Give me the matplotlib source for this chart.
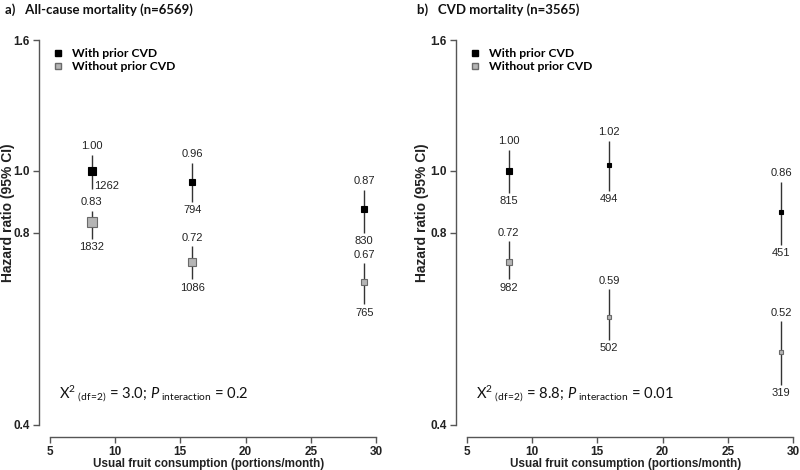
import matplotlib
matplotlib.use("Agg")
import matplotlib.pyplot as plt
from matplotlib.lines import Line2D
from matplotlib.ticker import FixedLocator, FixedFormatter, NullLocator

# ---------------- data ----------------
fruit_x = [8.2, 15.9, 29.1]

a_with_hr = [1.00, 0.96, 0.87]
a_with_lo = [0.937, 0.894, 0.800]
a_with_hi = [1.059, 1.029, 0.934]
a_with_n = [1262, 794, 830]

a_without_hr = [0.83, 0.72, 0.67]
a_without_lo = [0.783, 0.676, 0.618]
a_without_hi = [0.866, 0.761, 0.716]
a_without_n = [1832, 1086, 765]

b_with_hr = [1.00, 1.02, 0.86]
b_with_lo = [0.924, 0.930, 0.766]
b_with_hi = [1.078, 1.114, 0.960]
b_with_n = [815, 494, 451]

b_without_hr = [0.72, 0.59, 0.52]
b_without_lo = [0.676, 0.544, 0.462]
b_without_hi = [0.775, 0.652, 0.581]
b_without_n = [982, 502, 319]

x_ticks = [5, 10, 15, 20, 25, 30]
y_ticks = [0.4, 0.8, 1.0, 1.6]
y_ticklabels = ["0.4", "0.8", "1.0", "1.6"]

titles = ["a)   All-cause mortality (n=6569)", "b)   CVD mortality (n=3565)"]
stats = [r"X$^{2}$$_{\ (df\!=\!2)}$ = 3.0; $\mathit{P}$$_{\ interaction}$ = 0.2",
         r"X$^{2}$$_{\ (df\!=\!2)}$ = 8.8; $\mathit{P}$$_{\ interaction}$ = 0.01"]

# ---------------- style ----------------
plt.rcParams["font.family"] = ["Liberation Sans", "DejaVu Sans"]
plt.rcParams["mathtext.fontset"] = "custom"
plt.rcParams["mathtext.rm"] = "Lato"
plt.rcParams["mathtext.it"] = "Lato:italic"
plt.rcParams["mathtext.default"] = "regular"

W, H = 800, 470
fig = plt.figure(figsize=(8, 4.7), dpi=100)

AX_COL = "#555555"
LINE_COL = "#333333"
GRAY_FACE = "#b5b5b5"
GRAY_EDGE = "#6a6a6a"

# marker sizes (px) per panel/series
msize = {
    ("a", "with"): [7.7, 6.3, 6.3],
    ("a", "without"): [9.3, 7.7, 6.3],
    ("b", "with"): [6.5, 4.8, 4.4],
    ("b", "without"): [6.8, 5.0, 4.4],
}

xlim = (4.16, 30.23)
ylim = (0.383, 1.63)

panels = [
    ("a", 39, 8, [(a_with_hr, a_with_lo, a_with_hi, a_with_n, "with"),
                  (a_without_hr, a_without_lo, a_without_hi, a_without_n, "without")]),
    ("b", 456, 422, [(b_with_hr, b_with_lo, b_with_hi, b_with_n, "with"),
                     (b_without_hr, b_without_lo, b_without_hi, b_without_n, "without")]),
]

px2pt = 0.72
for pi, (key, left_px, ylab_px, series) in enumerate(panels):
    top_px, bot_px = 35, 437
    ax = fig.add_axes([left_px / W, (H - bot_px) / H, 340 / W, (bot_px - top_px) / H])
    ax.set_yscale("log")
    ax.set_xlim(*xlim)
    ax.set_ylim(*ylim)
    for s in ["top", "right"]:
        ax.spines[s].set_visible(False)
    ax.spines["left"].set_bounds(0.4, 1.6)
    ax.spines["bottom"].set_bounds(5, 30)
    for s in ["left", "bottom"]:
        ax.spines[s].set_color(AX_COL)
        ax.spines[s].set_linewidth(1.0)
    ax.yaxis.set_major_locator(FixedLocator(y_ticks))
    ax.yaxis.set_major_formatter(FixedFormatter(y_ticklabels))
    ax.yaxis.set_minor_locator(NullLocator())
    ax.set_xticks(x_ticks)
    ax.tick_params(axis="both", colors=AX_COL, length=4, width=1.0,
                   labelcolor="#222222", labelsize=8.5, pad=2.5)
    for lab in ax.get_xticklabels() + ax.get_yticklabels():
        lab.set_fontweight("bold")

    ax.set_xlabel("Usual fruit consumption (portions/month)", fontsize=8.4,
                  fontweight="bold", color="#222222", labelpad=0)
    ax.set_ylabel("Hazard ratio (95% CI)", fontsize=10, fontweight="bold",
                  color="#222222", va="center")
    ax.yaxis.set_label_coords((ylab_px - left_px) / 340, (bot_px - 213) / (bot_px - top_px))

    for hr, lo, hi, nn, kind in series:
        face = "black" if kind == "with" else GRAY_FACE
        edge = "black" if kind == "with" else GRAY_EDGE
        ax.vlines(fruit_x, lo, hi, color=LINE_COL, linewidth=1.0, zorder=2)
        for i in range(len(fruit_x)):
            ax.plot(fruit_x[i], hr[i], marker="s", linestyle="none",
                    markersize=msize[(key, kind)][i] * px2pt,
                    markerfacecolor=face, markeredgecolor=edge,
                    markeredgewidth=0.8, zorder=3)
            ax.annotate(f"{hr[i]:.2f}", (fruit_x[i], hi[i]), xytext=(0, 2.5),
                        textcoords="offset points", ha="center", va="bottom",
                        fontsize=8, color="#222222")
            if key == "a" and kind == "with" and i == 0:
                ax.annotate(f"{nn[i]}", (fruit_x[i], lo[i]), xytext=(2, 2),
                            textcoords="offset points", ha="left", va="center",
                            fontsize=8, color="#222222")
            else:
                ax.annotate(f"{nn[i]}", (fruit_x[i], lo[i]), xytext=(0, -2.5),
                            textcoords="offset points", ha="center", va="top",
                            fontsize=8, color="#222222")

    handles = [
        Line2D([], [], marker="s", linestyle="none", markersize=5.5 * px2pt,
               markerfacecolor="black", markeredgecolor="black"),
        Line2D([], [], marker="s", linestyle="none", markersize=5.5 * px2pt,
               markerfacecolor=GRAY_FACE, markeredgecolor=GRAY_EDGE),
    ]
    ax.legend(handles, ["With prior CVD", "Without prior CVD"], loc="upper left",
              bbox_to_anchor=(0.02, 0.985), frameon=False, handlelength=0.8,
              handletextpad=0.8, labelspacing=0.15, borderaxespad=0.2,
              prop={"family": "Lato", "weight": "bold", "size": 8.7})

    ax.text(0.06, 0.097, stats[pi], transform=ax.transAxes, fontsize=10.6,
            family="Lato", color="#111111", ha="left", va="baseline")

    fig.text((5 if pi == 0 else 417) / W, 1 - 10 / H, titles[pi],
             family="Lato", fontweight="bold", fontsize=9.5, color="#111111",
             ha="left", va="center")

fig.savefig("out.png", dpi=100)
